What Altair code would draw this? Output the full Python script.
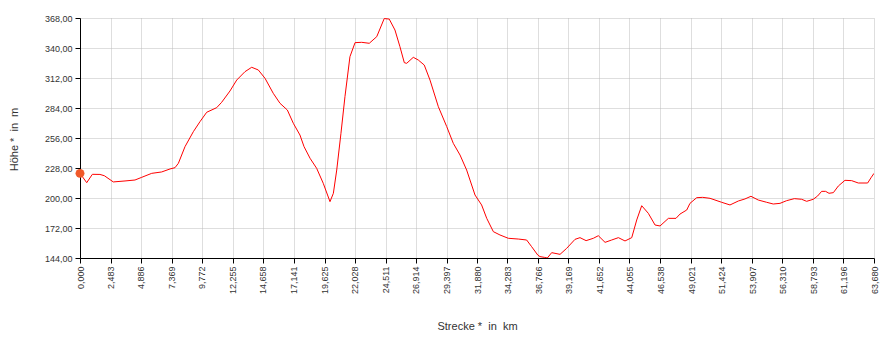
import altair as alt
import pandas as pd

# distance (km) and elevation (m)
km = [0.00, 0.54, 0.99, 1.60, 1.95, 2.67, 3.61, 4.41, 4.95, 5.75, 6.55, 7.22, 7.62, 7.89,
      8.42, 9.09, 9.62, 10.16, 10.96, 11.36, 12.03, 12.57, 13.23, 13.77, 14.30, 14.84,
      15.50, 16.04, 16.63, 17.11, 17.64, 17.97, 18.45, 18.98, 19.51, 20.05, 20.32, 20.59,
      20.93, 21.25, 21.65, 22.06, 22.59, 23.20, 23.80, 24.40, 24.80, 25.26, 25.66, 26.01,
      26.20, 26.73, 27.13, 27.61, 28.07, 28.74, 29.41, 29.94, 30.48, 31.01, 31.68, 32.21,
      32.62, 33.15, 33.68, 34.35, 35.15, 35.82, 36.22, 36.71, 36.89, 37.24, 37.48, 37.83,
      38.50, 39.03, 39.70, 40.10, 40.59, 41.17, 41.57, 42.11, 42.64, 43.18, 43.71, 44.25,
      44.65, 45.05, 45.58, 46.12, 46.52, 47.19, 47.80, 48.12, 48.66, 48.92, 49.46, 49.94,
      50.53, 51.46, 52.13, 52.80, 53.33, 53.81, 54.40, 55.07, 55.60, 56.14, 56.67, 57.29,
      57.88, 58.28, 58.81, 59.16, 59.48, 59.80, 60.07, 60.42, 60.82, 61.35, 61.89, 62.42,
      63.17, 63.44, 63.68]
elev = [223.0, 214.3, 222.1, 222.0, 220.8, 215.0, 215.9, 216.8, 219.3, 223.0, 224.3, 227.1,
        228.3, 232.4, 247.9, 261.9, 271.2, 280.0, 284.3, 289.3, 299.9, 310.1, 317.9, 322.0,
        319.5, 311.7, 297.7, 288.4, 282.1, 269.7, 258.8, 247.9, 237.1, 227.7, 213.7, 196.6,
        204.4, 226.1, 260.4, 294.6, 331.9, 345.0, 345.3, 344.4, 350.6, 367.5, 367.0, 356.8,
        341.2, 326.3, 325.7, 331.3, 328.8, 324.1, 310.1, 285.2, 266.7, 251.0, 240.1, 226.1,
        202.8, 193.5, 181.0, 168.6, 165.5, 162.4, 161.7, 160.8, 154.6, 146.8, 145.3, 144.6,
        144.0, 149.0, 147.4, 153.0, 161.4, 163.0, 160.2, 162.4, 164.8, 158.6, 160.8, 163.0,
        159.9, 163.0, 179.5, 192.8, 185.7, 174.8, 173.9, 181.0, 181.0, 185.0, 188.8, 195.0,
        200.3, 200.6, 199.7, 196.0, 193.5, 197.2, 199.1, 201.6, 198.1, 196.0, 194.4, 195.0,
        197.5, 199.4, 198.8, 196.9, 198.8, 201.9, 206.2, 206.2, 204.4, 205.0, 211.2, 216.5,
        216.2, 214.0, 214.0, 218.9, 223.0]

x_ticks = [0.000, 2.483, 4.886, 7.369, 9.772, 12.255, 14.658, 17.141, 19.625, 22.028,
           24.511, 26.914, 29.397, 31.880, 34.283, 36.766, 39.169, 41.652, 44.055, 46.538,
           49.021, 51.424, 53.907, 56.310, 58.793, 61.196, 63.680]
y_ticks = [144, 172, 200, 228, 256, 284, 312, 340, 368]

marker_km = [0.0]
marker_elev = [223.0]

df = pd.DataFrame({"km": km, "m": elev})
dfm = pd.DataFrame({"km": marker_km, "m": marker_elev})

FONT = "Liberation Sans"
GRID = "#bdbdbd"

xenc = alt.X("km:Q",
             scale=alt.Scale(domain=[0, 63.68], nice=False, zero=False),
             axis=alt.Axis(values=x_ticks, tickCount=60,
                           labelExpr="replace(format(datum.value, '.3f'), '.', ',')",
                           labelAngle=270, labelAlign="right", labelBaseline="middle",
                           labelPadding=3, labelFont=FONT, labelFontSize=9,
                           labelColor="#333333", labelOverlap=False, labelFlush=False,
                           tickSize=5, tickColor="#000000", domainColor="#000000",
                           gridColor=GRID, gridDash=[1, 1], grid=True,
                           title="Strecke * \u00a0in \u00a0km", titleFont=FONT, titleFontSize=11,
                           titleFontWeight="normal", titleColor="#333333",
                           titleX=397, titleY=68, titleAlign="center",
                           titleBaseline="middle"))
yenc = alt.Y("m:Q",
             scale=alt.Scale(domain=[144, 368], nice=False, zero=False),
             axis=alt.Axis(values=y_ticks, tickCount=20,
                           labelExpr="replace(format(datum.value, '.2f'), '.', ',')",
                           labelPadding=3, labelFont=FONT, labelFontSize=9,
                           labelColor="#333333", labelOverlap=False,
                           tickSize=5, tickColor="#000000", domainColor="#000000",
                           gridColor=GRID, gridDash=[1, 1], grid=True,
                           title="Höhe * \u00a0in \u00a0m", titleFont=FONT, titleFontSize=11,
                           titleFontWeight="normal", titleColor="#333333",
                           titleX=-66, titleY=121, titleAngle=270, titleAlign="center",
                           titleBaseline="middle"))

line = alt.Chart(df).mark_line(color="#ff0000", strokeWidth=1, clip=True).encode(x=xenc, y=yenc)
dot = alt.Chart(dfm).mark_point(filled=True, size=80, color="#f0592a", opacity=1).encode(
    x=alt.X("km:Q"), y=alt.Y("m:Q"))

chart = alt.layer(line, dot).properties(
    width=794, height=240, autosize="none",
    padding={"left": 72, "top": 10, "right": 10, "bottom": 73},
).configure_view(strokeWidth=0)

chart.save("out.html", embed_options={"renderer": "svg", "actions": False})
